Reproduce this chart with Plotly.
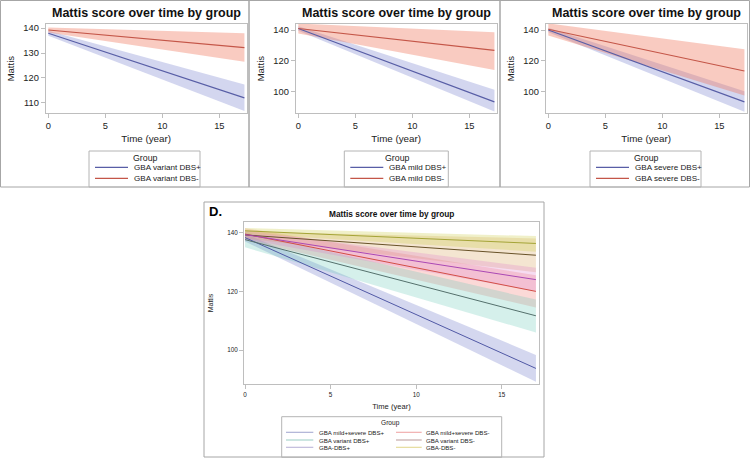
import plotly.graph_objects as go

W, H = 750, 459
FONT = "Liberation Sans, Arial, sans-serif"


def px(x):
    return x / W


def py(y):
    return 1 - y / H


# ---------------- data ----------------
top_time = [0, 17.2]
d_time = [0, 17]

a_groups = ["GBA variant DBS+", "GBA variant DBS-"]
a_mean = [[138.0, 112.0], [139.3, 132.2]]
a_lower = [[137.0, 106.7], [138.3, 126.5]]
a_upper = [[139.0, 117.4], [140.3, 138.0]]

b_groups = ["GBA mild DBS+", "GBA mild DBS-"]
b_mean = [[141.0, 93.4], [141.0, 126.8]]
b_lower = [[139.5, 87.2], [137.8, 114.0]]
b_upper = [[142.5, 101.3], [144.2, 138.5]]

c_groups = ["GBA severe DBS+", "GBA severe DBS-"]
c_mean = [[140.0, 93.4], [140.5, 113.4]]
c_lower = [[138.5, 87.0], [136.5, 97.5]]
c_upper = [[141.5, 100.3], [144.3, 127.5]]

d_groups = ["GBA mild+severe DBS+", "GBA mild+severe DBS-", "GBA variant DBS+",
            "GBA variant DBS-", "GBA-DBS+", "GBA-DBS-"]
d_mean = [[138.3, 93.8], [139.5, 120.0], [137.6, 111.7], [139.2, 132.3], [139.3, 124.0], [140.6, 136.3]]
d_lower = [[137.0, 89.3], [137.5, 114.5], [135.0, 106.0], [138.0, 126.5], [137.8, 120.0], [139.6, 133.5]]
d_upper = [[139.6, 98.4], [141.5, 125.5], [140.2, 117.2], [140.4, 138.0], [140.8, 128.0], [141.6, 138.8]]

x_ticks = [0, 5, 10, 15]
a_yticks = [110, 120, 130, 140]
bc_yticks = [100, 120, 140]
d_yticks = [100, 120, 140]

title_text = "Mattis score over time by group"
x_title = "Time (year)"
y_title = "Mattis"
legend_title = "Group"

# ---------------- styles ----------------
top_line_colors = ["rgb(88,94,166)", "rgb(196,86,72)"]
top_band_colors = ["rgba(120,130,205,0.33)", "rgba(240,118,92,0.38)"]

d_line_colors = ["rgb(80,88,165)", "rgb(210,78,70)", "rgb(84,112,108)",
                 "rgb(104,82,40)", "rgb(170,72,180)", "rgb(164,164,55)"]
d_band_colors = ["rgba(120,130,205,0.32)", "rgba(240,110,100,0.26)", "rgba(100,200,180,0.27)",
                 "rgba(215,160,90,0.28)", "rgba(220,120,200,0.26)", "rgba(210,210,90,0.33)"]
d_legend_colors = ["rgba(80,88,165,0.5)", "rgba(230,110,110,0.6)", "rgba(100,180,165,0.6)",
                   "rgba(150,100,100,0.6)", "rgba(140,130,190,0.6)", "rgba(215,200,100,0.7)"]

AX = "#BEBEBE"
BORDER = "#A6A6A6"

fig = go.Figure()


def add_panel(idx, groups, mean, lower, upper, time, band_colors, line_colors, lw):
    xa = "x" if idx == 1 else f"x{idx}"
    ya = "y" if idx == 1 else f"y{idx}"
    for g, lo, hi, bc in zip(groups, lower, upper, band_colors):
        fig.add_trace(go.Scatter(
            x=list(time) + list(time)[::-1], y=list(hi) + list(lo)[::-1],
            fill="toself", fillcolor=bc, mode="lines", line=dict(width=0),
            hoverinfo="skip", showlegend=False, name=g + " 95% CI",
            xaxis=xa, yaxis=ya))
    for g, m, lc in zip(groups, mean, line_colors):
        fig.add_trace(go.Scatter(
            x=time, y=m, mode="lines", line=dict(color=lc, width=lw),
            showlegend=False, name=g, xaxis=xa, yaxis=ya))


add_panel(1, a_groups, a_mean, a_lower, a_upper, top_time, top_band_colors, top_line_colors, 1.1)
add_panel(2, b_groups, b_mean, b_lower, b_upper, top_time, top_band_colors, top_line_colors, 1.1)
add_panel(3, c_groups, c_mean, c_lower, c_upper, top_time, top_band_colors, top_line_colors, 1.1)
add_panel(4, d_groups, d_mean, d_lower, d_upper, d_time, d_band_colors, d_line_colors, 1.0)


def axis(domain, rng, tickvals, tick_size, title, title_size, standoff, anchor):
    return dict(domain=domain, range=rng, tickvals=tickvals, anchor=anchor,
                showgrid=False, zeroline=False, showline=True, mirror=True,
                linecolor=AX, linewidth=1, ticks="outside", ticklen=4, tickcolor=AX,
                tickfont=dict(size=tick_size, color="#222", family=FONT),
                title=dict(text=title, font=dict(size=title_size, color="#222", family=FONT),
                           standoff=standoff))


top_ydom = [py(113.3), py(24)]
top_xr = [-0.23, 17.4]
layout_axes = dict(
    xaxis=axis([px(45.7), px(246.7)], top_xr, x_ticks, 9.3, x_title, 9.8, 4, "y"),
    yaxis=axis(top_ydom, [105.8, 141.7], a_yticks, 9.3, y_title, 9.5, 6, "x"),
    xaxis2=axis([px(295.7), px(496.7)], top_xr, x_ticks, 9.3, x_title, 9.8, 4, "y2"),
    yaxis2=axis(top_ydom, [86.0, 143.9], bc_yticks, 9.3, y_title, 9.5, 6, "x2"),
    xaxis3=axis([px(545.7), px(746.7)], top_xr, x_ticks, 9.3, x_title, 9.8, 4, "y3"),
    yaxis3=axis(top_ydom, [86.0, 143.9], bc_yticks, 9.3, y_title, 9.5, 6, "x3"),
    xaxis4=axis([px(244), px(539)], [-0.06, 17.18], x_ticks, 6.3, x_title, 7.6, 7, "y4"),
    yaxis4=axis([py(384), py(222)], [88.5, 143.6], d_yticks, 6.3, y_title, 7, 12, "x4"),
)

shapes = []
annotations = []


def rect(x0, y0, x1, y1, color, width=1):
    shapes.append(dict(type="rect", xref="paper", yref="paper",
                       x0=px(x0), x1=px(x1), y0=py(y1), y1=py(y0),
                       line=dict(color=color, width=width), fillcolor="rgba(0,0,0,0)", layer="above"))


def hline(x0, x1, y, color, width):
    shapes.append(dict(type="line", xref="paper", yref="paper",
                       x0=px(x0), x1=px(x1), y0=py(y), y1=py(y),
                       line=dict(color=color, width=width), layer="above"))


def text(x, y, s, size, bold=False, xanchor="center", color="#111"):
    annotations.append(dict(xref="paper", yref="paper", x=px(x), y=py(y), text=s,
                            showarrow=False, xanchor=xanchor, yanchor="middle",
                            font=dict(size=size, family=FONT, color=color,
                                      weight="bold" if bold else "normal")))


# panel frames
rect(0.5, 0.5, 249, 187, BORDER)
rect(249, 0.5, 500, 187, BORDER)
rect(500, 0.5, 749.5, 187, BORDER)
rect(204, 202, 544, 457, BORDER)

# titles
text(146.2, 13, title_text, 12.5, bold=True)
text(396.2, 13, title_text, 12.5, bold=True)
text(646.2, 13, title_text, 12.5, bold=True)
text(391.5, 214, title_text, 8.3, bold=True)
text(207, 211, "D.", 13, bold=True, xanchor="left", color="#000")


# legends of top panels
def top_legend(x0, x1, groups, colors):
    rect(x0, 151, x1, 187, "#B4B4B4")
    text((x0 + x1) / 2 + 1, 157.5, legend_title, 8.8, color="#222")
    for g, c, yy in zip(groups, colors, [167.3, 178.3]):
        hline(x0 + 6, x0 + 39, yy, c, 1.3)
        text(x0 + 42.5, yy, g, 8.1, xanchor="left", color="#222")


top_legend(89, 200, a_groups, top_line_colors)
top_legend(344.3, 448.3, b_groups, top_line_colors)
top_legend(590, 701, c_groups, top_line_colors)

# legend of panel D (two columns, three rows)
rect(281.7, 416.7, 501.7, 457.3, "#B4B4B4")
text(390, 422.7, legend_title, 6.6, color="#222")
d_rows = [432.3, 440, 447.3]
d_cols = [(286, 313.3, 316.7), (396, 421.7, 424)]
for i, (g, c) in enumerate(zip(d_groups, d_legend_colors)):
    lx0, lx1, tx = d_cols[i % 2]
    yy = d_rows[i // 2]
    hline(lx0, lx1, yy, c, 1.1)
    text(tx, yy, g, 6.1, xanchor="left", color="#222")

fig.update_layout(
    width=W, height=H, margin=dict(l=0, r=0, t=0, b=0),
    paper_bgcolor="white", plot_bgcolor="white",
    font=dict(family=FONT, color="#222"),
    showlegend=False, shapes=shapes, annotations=annotations,
    **layout_axes)

fig.write_html("out.html", config={"displayModeBar": False},
               post_script="document.body.style.margin='0';document.body.style.padding='0';")
